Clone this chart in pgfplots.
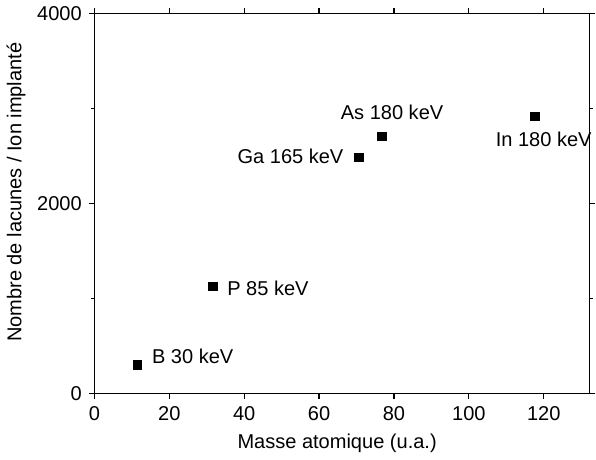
\documentclass[border=0pt]{standalone}
\usepackage{fontspec}
\setmainfont{Liberation Sans}
\usepackage{pgfplots}
\pgfplotsset{compat=1.18}
\begin{document}
\begin{tikzpicture}
\begin{axis}[
    scale only axis,
    width=246.5bp, height=189bp,
    xmin=0, xmax=132.3,
    ymin=0, ymax=4000,
    xtick={0,20,40,60,80,100,120},
    ytick={0,2000,4000},
    minor ytick={1000,3000},
    tick align=outside,
    major tick length=2.8bp,
    minor tick length=1.5bp,
    axis line style={line width=0.7pt},
    every tick/.style={line width=0.6pt, black},
    /pgf/number format/1000 sep={},
    /pgf/number format/assume math mode=true,
    ticklabel style={font=\fontsize{10}{12}\selectfont},
    label style={font=\fontsize{10}{12}\selectfont},
    xlabel={Masse atomique (u.a.)},
    ylabel={Nombre de lacunes / Ion implanté},
    xlabel style={at={(axis description cs:0.49,-0.132)}, anchor=center},
    ylabel style={at={(axis description cs:-0.158,0.53)}, anchor=center},
    clip=false
]
\addplot[only marks, mark=square*, mark size=2.1bp, black] coordinates {
    (11.5,300)
    (31.7,1130)
    (70.6,2487)
    (76.8,2709)
    (117.6,2921)
};
\node[anchor=west, inner sep=0pt, font=\fontsize{10}{12}\selectfont] at (axis cs:15.3,390) {B 30 keV};
\node[anchor=west, inner sep=0pt, font=\fontsize{10}{12}\selectfont] at (axis cs:35.4,1111) {P 85 keV};
\node[anchor=east, inner sep=0pt, font=\fontsize{10}{12}\selectfont] at (axis cs:66.6,2497) {Ga 165 keV};
\node[anchor=center, inner sep=0pt, font=\fontsize{10}{12}\selectfont] at (axis cs:79.5,2963) {As 180 keV};
\node[anchor=center, inner sep=0pt, font=\fontsize{10}{12}\selectfont] at (axis cs:120,2677) {In 180 keV};
\end{axis}
\end{tikzpicture}
\end{document}
